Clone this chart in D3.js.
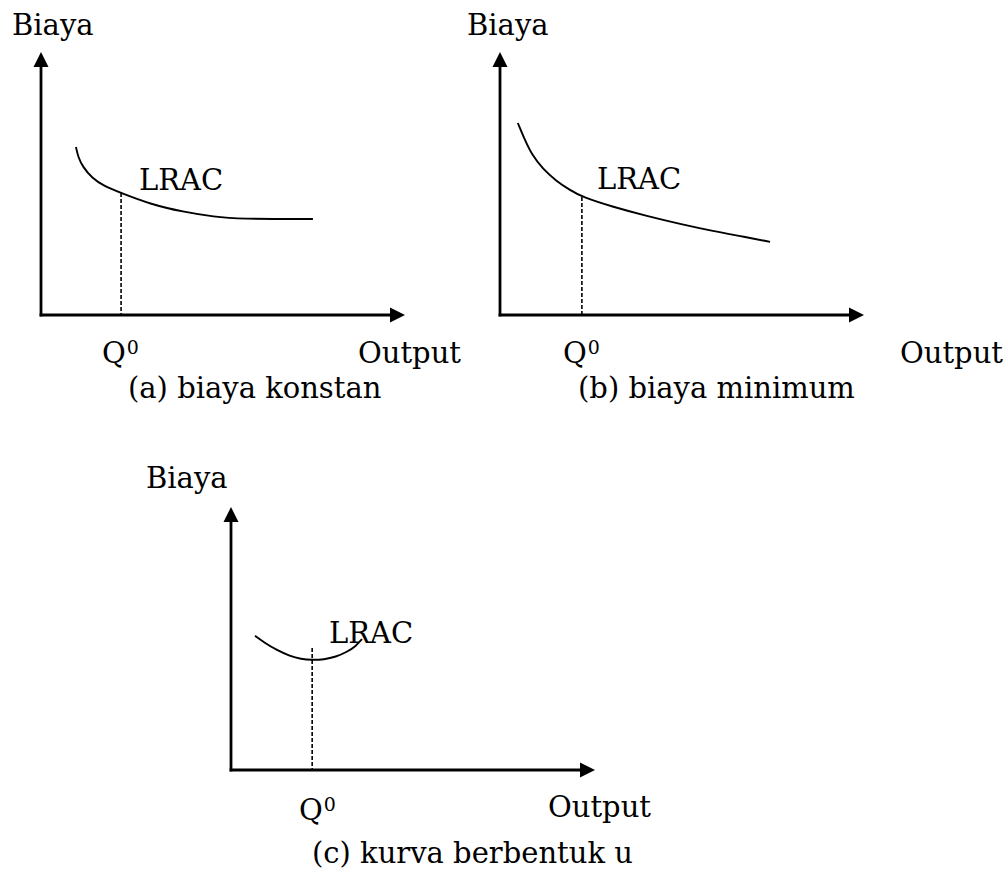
<!DOCTYPE html>
<html>
<head>
<meta charset="utf-8">
<script src="https://cdn.jsdelivr.net/npm/d3@7"></script>
<style>
  body { margin: 0; background: #fff; }
  text { font-family: "DejaVu Serif", serif; font-size: 29px; fill: #000; }
</style>
</head>
<body>
<svg id="chart" width="1005" height="879"></svg>
<script>
// Long-run average cost curves; output on x, cost on y, both in 0–100 units
const constantCostX = [9.6, 10.2, 11.5, 14.0, 17.3, 22.0, 29.9, 39.0, 47.8, 54.1, 74.7];
const constantCostY = [63.9, 60.1, 56.3, 52.1, 49.0, 46.4, 42.2, 39.2, 37.3, 36.5, 36.5];
const minimumCostX  = [4.9, 6.6, 8.8, 11.8, 15.4, 19.2, 22.5, 31.0, 40.4, 49.5, 58.5, 67.3, 74.2];
const minimumCostY  = [73.0, 67.3, 60.8, 55.5, 51.0, 47.5, 44.9, 41.1, 37.6, 34.6, 31.9, 29.7, 27.8];
const uShapeX       = [6.6, 9.3, 12.6, 16.2, 19.2, 22.3, 25.5, 28.8, 31.9, 34.3, 36.0];
const uShapeY       = [51.0, 48.3, 45.6, 43.3, 42.2, 41.8, 42.0, 43.0, 44.9, 47.1, 49.8];

// Q0 output level and the top of its dashed guide in each panel
const q0Output = [22, 22.5, 22.3];
const q0GuideTop = [46.4, 44.9, 46.4];

const yAxisLabel = "Biaya";
const xAxisLabel = "Output";
const curveLabel = "LRAC";
const q0Label = "Q";
const q0Superscript = "0";
const captions = ["(a) biaya konstan", "(b) biaya minimum", "(c) kurva berbentuk u"];

const svg = d3.select("#chart");

const axisW = 364, axisH = 263;
const x = d3.scaleLinear().domain([0, 100]).range([0, axisW]);
const y = d3.scaleLinear().domain([0, 100]).range([0, -axisH]);

const panels = [
  { origin: [41, 315], xs: constantCostX, ys: constantCostY,
    biaya: [-29, -280], lrac: [98, -125], q: [61, 48], out: [317, 48], cap: [87, 83] },
  { origin: [500, 315], xs: minimumCostX, ys: minimumCostY,
    biaya: [-33, -280], lrac: [97, -126], q: [63, 48], out: [400, 48], cap: [78, 83] },
  { origin: [231, 770], xs: uShapeX, ys: uShapeY,
    biaya: [-85, -282], lrac: [98, -127], q: [68, 50], out: [317, 47], cap: [81, 93] }
];

const line = d3.line()
  .x(d => x(d[0]))
  .y(d => y(d[1]))
  .curve(d3.curveBasis);

panels.forEach((p, i) => {
  const g = svg.append("g").attr("transform", `translate(${p.origin[0]},${p.origin[1]})`);

  // axes with arrowheads
  const tip = 15, half = 7.5;
  g.append("line").attr("x1", 0).attr("y1", 1.4).attr("x2", 0).attr("y2", y(100) + tip - 1)
    .attr("stroke", "#000").attr("stroke-width", 2.8);
  g.append("line").attr("x1", -1.4).attr("y1", 0).attr("x2", x(100) - tip + 1).attr("y2", 0)
    .attr("stroke", "#000").attr("stroke-width", 2.8);
  g.append("path")
    .attr("d", `M0,${y(100)} L${-half},${y(100) + tip} L${half},${y(100) + tip} Z`)
    .attr("fill", "#000");
  g.append("path")
    .attr("d", `M${x(100)},0 L${x(100) - tip},${-half} L${x(100) - tip},${half} Z`)
    .attr("fill", "#000");

  // dashed guide at Q0
  g.append("line")
    .attr("x1", x(q0Output[i])).attr("x2", x(q0Output[i]))
    .attr("y1", y(q0GuideTop[i])).attr("y2", 0)
    .attr("stroke", "#000").attr("stroke-width", 1.6)
    .attr("stroke-dasharray", "4,2");

  // LRAC curve
  const pts = p.xs.map((v, k) => [v, p.ys[k]]);
  g.append("path").attr("d", line(pts))
    .attr("fill", "none").attr("stroke", "#000").attr("stroke-width", 1.9);

  // labels
  g.append("text").attr("x", p.biaya[0]).attr("y", p.biaya[1]).text(yAxisLabel);
  g.append("text").attr("x", p.lrac[0]).attr("y", p.lrac[1]).text(curveLabel);
  const q = g.append("text").attr("x", p.q[0]).attr("y", p.q[1]);
  q.append("tspan").text(q0Label);
  q.append("tspan").attr("dy", -9).attr("dx", 1).style("font-size", "19px").text(q0Superscript);
  g.append("text").attr("x", p.out[0]).attr("y", p.out[1]).text(xAxisLabel);
  g.append("text").attr("x", p.cap[0]).attr("y", p.cap[1]).text(captions[i]);
});
</script>
</body>
</html>
